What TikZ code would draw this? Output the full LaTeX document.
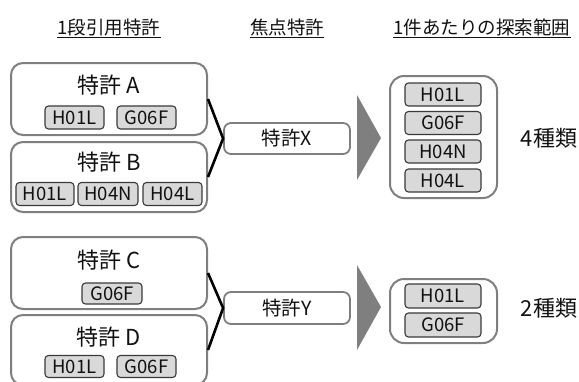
\documentclass[tikz,border=0pt]{standalone}
\usepackage{fontspec}
\setmainfont{Noto Sans CJK JP}
\definecolor{boxgray}{HTML}{7F7F7F}
\definecolor{chipfill}{HTML}{D9D9D9}
\definecolor{chipline}{HTML}{3A3A3A}
\definecolor{txt}{HTML}{111111}
\tikzset{
  bigbox/.style={draw=boxgray, line width=2pt, rounded corners=12pt, fill=white, inner sep=0pt},
  focusbox/.style={draw=boxgray, line width=1.8pt, rounded corners=7pt, fill=white, inner sep=0pt, minimum width=126pt, minimum height=31pt, font=\fontsize{19.5}{22}\selectfont, text=txt},
  chip/.style={draw=chipline, line width=1.1pt, rounded corners=3.5pt, fill=chipfill, inner sep=0pt, font=\fontsize{18.5}{21}\selectfont, text=txt},
  title/.style={font=\fontsize{22}{25}\selectfont, text=txt, inner sep=0pt},
  header/.style={font=\fontsize{18.5}{21}\selectfont, text=txt, inner sep=0pt},
  hline/.style={txt, line width=0.9pt},
  bracket/.style={black, line width=2.6pt},
  bigarrow/.style={fill=boxgray, draw=none},
}
\begin{document}
\begin{tikzpicture}[x=1pt,y=-1pt]
\useasboundingbox (0,0) rectangle (579,381);
\clip (0,0) rectangle (579,381);
% headers
\node[header] (h1) at (109,27) {1段引用特許};
\node[header] (h2) at (287,27) {焦点特許};
\node[header] (h3) at (482,27) {1件あたりの探索範囲};
\draw[hline] ([yshift=-2pt]h1.south west) -- ([yshift=-2pt]h1.south east);
\draw[hline] ([yshift=-2pt]h2.south west) -- ([yshift=-2pt]h2.south east);
\draw[hline] ([yshift=-2pt]h3.south west) -- ([yshift=-2pt]h3.south east);

% group 1
\node[bigbox, minimum width=196pt, minimum height=72pt] (A) at (109,99) {};
\node[title] (tA) at (109,85) {特許 A};
\node[chip, minimum width=59pt, minimum height=23pt] (a1) at (74.5,117.5) {H01L};
\node[chip, minimum width=59pt, minimum height=23pt] (a2) at (146.5,117.5) {G06F};

\node[bigbox, minimum width=196pt, minimum height=70pt] (B) at (109,177) {};
\node[title] (tB) at (109,162) {特許 B};
\node[chip, minimum width=58pt, minimum height=23pt] (b1) at (45,194) {H01L};
\node[chip, minimum width=60pt, minimum height=23pt] (b2) at (108,194) {H04N};
\node[chip, minimum width=59pt, minimum height=23pt] (b3) at (172.5,194) {H04L};

\node[focusbox] (X) at (287,138.5) {特許X};
\draw[bracket] (A.east) -- (X.west) -- (B.east);

\fill[bigarrow] (357,95) -- (381,138) -- (357,180) -- cycle;

\node[bigbox, rounded corners=14pt, minimum width=107pt, minimum height=122pt] (R1) at (443.5,137) {};
\node[chip, minimum width=76pt, minimum height=23pt] (r11) at (443,94.5) {H01L};
\node[chip, minimum width=76pt, minimum height=23pt] (r12) at (443,123) {G06F};
\node[chip, minimum width=76pt, minimum height=23pt] (r13) at (443,151.5) {H04N};
\node[chip, minimum width=76pt, minimum height=23pt] (r14) at (443,180.5) {H04L};
\node[title] (k1) at (549,138) {4種類};

% group 2
\node[bigbox, minimum width=196pt, minimum height=72pt] (C) at (109,273) {};
\node[title] (tC) at (109,260) {特許 C};
\node[chip, minimum width=60pt, minimum height=21pt] (c1) at (112,293.5) {G06F};

\node[bigbox, minimum width=196pt, minimum height=70pt] (D) at (109,350) {};
\node[title] (tD) at (109,337) {特許 D};
\node[chip, minimum width=59pt, minimum height=22pt] (d1) at (74.5,366.5) {H01L};
\node[chip, minimum width=59pt, minimum height=22pt] (d2) at (146.5,366.5) {G06F};

\node[focusbox, minimum height=32pt] (Y) at (287,308) {特許Y};
\draw[bracket] (C.east) -- (Y.west) -- (D.east);

\fill[bigarrow] (357,265) -- (381,307) -- (357,350) -- cycle;

\node[bigbox, rounded corners=14pt, minimum width=107pt, minimum height=64pt] (R2) at (443.5,311) {};
\node[chip, minimum width=76pt, minimum height=24pt] (r21) at (443,296) {H01L};
\node[chip, minimum width=76pt, minimum height=24pt] (r22) at (443,325) {G06F};
\node[title] (k2) at (549,308) {2種類};
\end{tikzpicture}
\end{document}
